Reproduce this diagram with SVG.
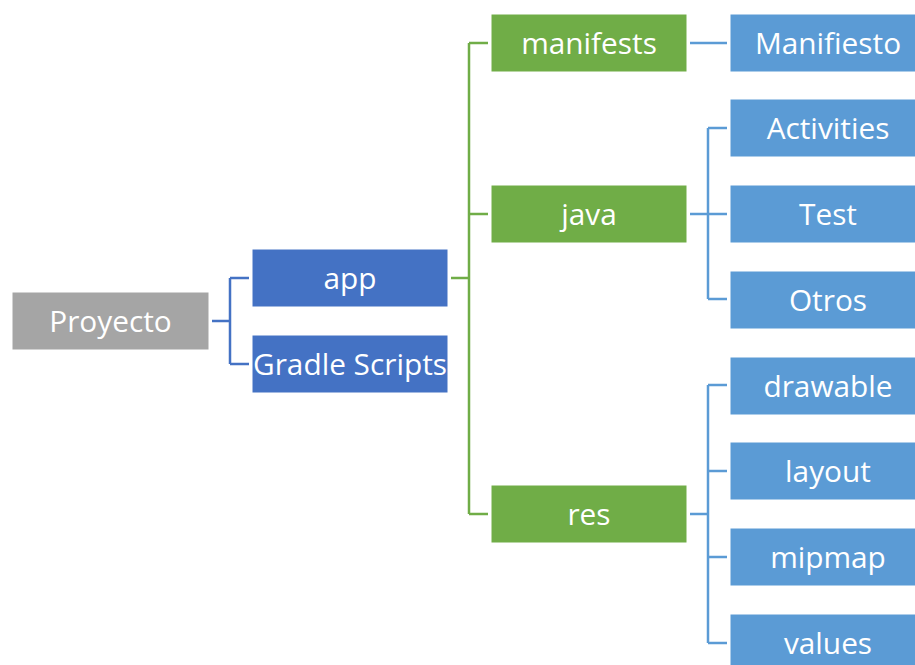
<svg xmlns="http://www.w3.org/2000/svg" width="915" height="665" viewBox="0 0 915 665">
  <style>
    .lbl { font-family: "Open Sans", "Noto Sans", sans-serif; font-size: 29.8px; fill: #ffffff; text-anchor: middle; }
    .gray { fill: #A5A5A5; }
    .dblue { fill: #4472C4; }
    .green { fill: #70AD47; }
    .lblue { fill: #5B9BD5; }
    .box { stroke: #ffffff; stroke-width: 1; }
    .c-dblue { fill: none; stroke: #4472C4; stroke-width: 2.5; }
    .c-green { fill: none; stroke: #70AD47; stroke-width: 2.5; }
    .c-lblue { fill: none; stroke: #5B9BD5; stroke-width: 2.5; }
  </style>
  <rect width="915" height="665" fill="#ffffff"/>

  <!-- connectors -->
  <g id="connectors">
    <!-- Proyecto to app / Gradle Scripts -->
    <path class="c-dblue" d="M212 321 H230 M230 278 V364 M230 278 H249 M230 364 H249"/>
    <!-- app to manifests / java / res -->
    <path class="c-green" d="M451 278 H469 M469 43 V514 M469 43 H488 M469 214 H488 M469 514 H488"/>
    <!-- manifests to Manifiesto -->
    <path class="c-lblue" d="M690 43 H727"/>
    <!-- java to children -->
    <path class="c-lblue" d="M690 214 H708 M708 128 V299 M708 128 H727 M708 214 H727 M708 299 H727"/>
    <!-- res to children -->
    <path class="c-lblue" d="M690 514 H708 M708 385 V643 M708 385 H727 M708 471 H727 M708 557 H727 M708 643 H727"/>
  </g>

  <g id="proyecto">
    <rect class="box gray" x="12" y="292" width="197" height="58"/>
    <text class="lbl" x="110.5" y="331.5">Proyecto</text>
  </g>
  <g id="app">
    <rect class="box dblue" x="252" y="249" width="196" height="58"/>
    <text class="lbl" x="350" y="288.5">app</text>
  </g>
  <g id="gradle-scripts">
    <rect class="box dblue" x="252" y="335" width="196" height="58"/>
    <text class="lbl" x="350" y="374.5">Gradle Scripts</text>
  </g>

  <g id="manifests">
    <rect class="box green" x="491" y="14" width="196" height="58"/>
    <text class="lbl" x="589" y="53.5">manifests</text>
  </g>
  <g id="java">
    <rect class="box green" x="491" y="185" width="196" height="58"/>
    <text class="lbl" x="589" y="224.5">java</text>
  </g>
  <g id="res">
    <rect class="box green" x="491" y="485" width="196" height="58"/>
    <text class="lbl" x="589" y="524.5">res</text>
  </g>

  <g id="manifiesto">
    <rect class="box lblue" x="730" y="14" width="196" height="58"/>
    <text class="lbl" x="828" y="53.5">Manifiesto</text>
  </g>
  <g id="activities">
    <rect class="box lblue" x="730" y="99" width="196" height="58"/>
    <text class="lbl" x="828" y="138.5">Activities</text>
  </g>
  <g id="test">
    <rect class="box lblue" x="730" y="185" width="196" height="58"/>
    <text class="lbl" x="828" y="224.5">Test</text>
  </g>
  <g id="otros">
    <rect class="box lblue" x="730" y="271" width="196" height="58"/>
    <text class="lbl" x="828" y="310.5">Otros</text>
  </g>
  <g id="drawable">
    <rect class="box lblue" x="730" y="357" width="196" height="58"/>
    <text class="lbl" x="828" y="396.5">drawable</text>
  </g>
  <g id="layout">
    <rect class="box lblue" x="730" y="442" width="196" height="58"/>
    <text class="lbl" x="828" y="481.5">layout</text>
  </g>
  <g id="mipmap">
    <rect class="box lblue" x="730" y="528" width="196" height="58"/>
    <text class="lbl" x="828" y="567.5">mipmap</text>
  </g>
  <g id="values">
    <rect class="box lblue" x="730" y="614" width="196" height="58"/>
    <text class="lbl" x="828" y="653.5">values</text>
  </g>
</svg>
